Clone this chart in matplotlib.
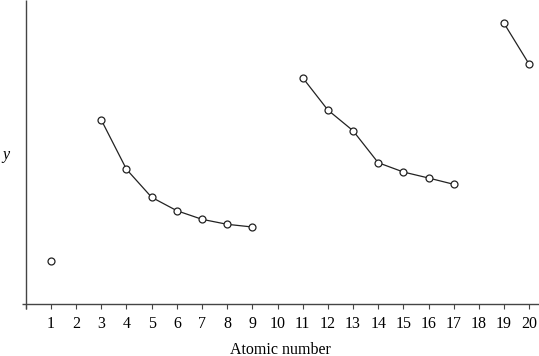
import matplotlib
matplotlib.use("Agg")
import matplotlib.pyplot as plt

plt.rcParams['font.family'] = ['Liberation Serif', 'DejaVu Serif']

seg0_x = [1]
seg0_y = [43.3]
seg1_x = [3, 4, 5, 6, 7, 8, 9]
seg1_y = [184.0, 134.7, 106.7, 93.3, 84.7, 79.7, 77.0]
seg2_x = [11, 12, 13, 14, 15, 16, 17]
seg2_y = [226.3, 194.0, 173.3, 141.3, 132.0, 126.0, 119.7]
seg3_x = [19, 20]
seg3_y = [280.7, 239.7]
tick_vals = list(range(0, 21))
tick_labels = [''] + [str(i) for i in range(1, 21)]

W, H = 539, 356
fig = plt.figure(figsize=(W / 100, H / 100), dpi=100)
left_px, right_px, top_px, bottom_px = 22, 539, 0, 304
ax = fig.add_axes([left_px / W, (H - bottom_px) / H, (right_px - left_px) / W, (bottom_px - top_px) / H])
xmin = -(25.8 - 22) / 25.17
xmax = xmin + (539 - 22) / 25.17
ax.set_xlim(xmin, xmax)
ax.set_ylim(0, 304)
for s in ax.spines.values():
    s.set_visible(False)

axcol = '#444444'
ax.plot([xmin, xmax], [0, 0], color=axcol, lw=1.0, clip_on=False, solid_capstyle='butt')
ax.plot([0, 0], [-5, 304], color=axcol, lw=1.0, clip_on=False, solid_capstyle='butt')

for xs, ys in [(seg0_x, seg0_y), (seg1_x, seg1_y), (seg2_x, seg2_y), (seg3_x, seg3_y)]:
    ax.plot(xs, ys, color='#222222', lw=0.9, marker='o', markersize=5,
            markerfacecolor='white', markeredgecolor='#222222', markeredgewidth=0.9, clip_on=False)

ax.set_xticks(tick_vals)
ax.set_xticklabels(tick_labels)
ax.tick_params(axis='x', direction='out', length=3.5, width=0.8, color=axcol, pad=5, labelsize=11.5)
ax.set_yticks([])
ax.set_xlabel('Atomic number', fontsize=11.5, labelpad=7)
ax.text(-0.8, 149, 'y', fontsize=11.5, style='italic', ha='center', va='center')

fig.savefig('out.png', dpi=100)
